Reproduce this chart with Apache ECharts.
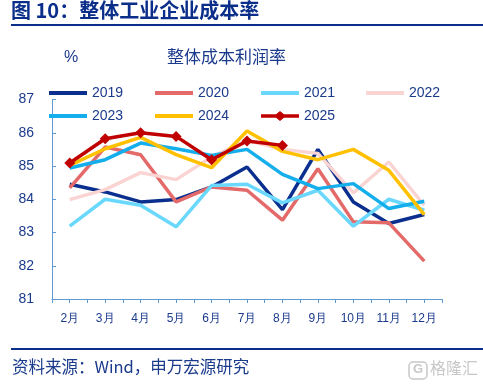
<!DOCTYPE html>
<html><head><meta charset="utf-8">
<script src="https://cdn.jsdelivr.net/npm/echarts@6/dist/echarts.min.js"></script>
<style>html,body{margin:0;padding:0;background:#fff}#c{width:483px;height:391px}</style>
</head><body><div id="c"></div>
<script>
const months = ['2月','3月','4月','5月','6月','7月','8月','9月','10月','11月','12月'];
const y2019 = [84.45,84.22,83.92,83.99,84.37,84.97,83.69,85.5,83.92,83.27,83.54];
const y2020 = [84.34,85.57,85.34,83.92,84.37,84.27,83.37,84.92,83.32,83.29,82.14];
const y2021 = [83.19,84.0,83.82,83.17,84.41,84.45,83.89,84.27,83.19,84.0,83.67];
const y2022 = [83.99,84.29,84.8,84.59,85.27,85.77,85.5,85.38,84.19,85.12,83.82];
const y2023 = [84.94,85.19,85.69,85.52,85.32,85.5,84.75,84.32,84.47,83.72,83.94];
const y2024 = [85.02,85.52,85.86,85.34,84.95,86.05,85.44,85.19,85.5,84.87,83.54];
const y2025 = [85.09,85.82,86.0,85.89,85.19,85.75,85.62];
const yTicks = [81,82,83,84,85,86,87];

const names = ['2019','2020','2021','2022','2023','2024','2025'];
const datas = [y2019,y2020,y2021,y2022,y2023,y2024,y2025];
const colors = ['#0B2F8E','#E46A6A','#6AD8FC','#F9D4D2','#13AEEB','#FFC000','#C00000'];
const navy = '#1A3A8C';

const series = names.map((n,i)=>({
  name:n, type:'line', data:datas[i],
  symbol: n==='2025' ? 'diamond' : 'none',
  symbolSize: 11,
  showSymbol: n==='2025',
  lineStyle:{width:3.5,color:colors[i]},
  itemStyle:{color:colors[i]},
  z: 2+i, animation:false
}));
const halfCats = [];
for (let i=0;i<22;i++) halfCats.push(String(i));

const diamondLine = 'path://M0,3.2L15,3.2L19,0L23,3.2L38,3.2L38,6.8L23,6.8L19,10L15,6.8L0,6.8Z';
const legendPos = [[44,81],[150,81],[256,81],[361,81],[44,104],[150,104],[256,104]];
const legends = names.map((n,i)=>({
  data:[n], left:legendPos[i][0], top:legendPos[i][1],
  icon: n==='2025' ? diamondLine : 'rect',
  itemWidth:38, itemHeight: n==='2025' ? 10 : 4, itemGap:5,
  textStyle:{color:navy,fontSize:14,fontFamily:'Liberation Sans, Arial'},
  selectedMode:false
}));

const chart = echarts.init(document.getElementById('c'));
chart.setOption({
  animation:false,
  legend: legends,
  grid:{left:52,right:41,top:99.5,bottom:92},
  xAxis:[{
    type:'category', data:months, boundaryGap:true,
    axisLine:{lineStyle:{color:'#5B9BD5',width:1}},
    axisTick:{show:false},
    axisLabel:{interval:0,color:navy,fontSize:12,margin:14,fontFamily:'Liberation Sans, Arial'}
  },{
    type:'category', data:halfCats, position:'bottom', boundaryGap:true,
    axisLine:{show:false},
    axisTick:{show:true,length:4,lineStyle:{color:'#5B9BD5'}},
    axisLabel:{show:false}
  }],
  yAxis:{
    type:'value', min:81, max:87, interval:1,
    axisLine:{show:true,lineStyle:{color:'#5B9BD5'}},
    axisTick:{show:true,inside:true,length:4,lineStyle:{color:'#5B9BD5'}},
    splitLine:{show:false},
    axisLabel:{color:navy,fontSize:14,margin:18,fontFamily:'Liberation Sans, Arial'}
  },
  series: series,
  graphic:[
    {type:'text',left:11,top:0,style:{text:'图 10：整体工业企业成本率',fill:'#0A2E8A',font:'bold 20px "Noto Sans CJK SC", sans-serif'}},
    {type:'rect',shape:{x:11,y:24,width:472,height:2},style:{fill:'#0A2E8A'}},
    {type:'text',left:64,top:50,style:{text:'%',fill:navy,font:'16px "Liberation Sans", sans-serif'}},
    {type:'text',left:167,top:48,style:{text:'整体成本利润率',fill:navy,font:'17px "Noto Sans CJK SC", sans-serif'}},
    {type:'rect',shape:{x:11,y:348,width:472,height:2},style:{fill:'#0A2E8A'}},
    {type:'text',left:12,top:358,style:{text:'资料来源：Wind，申万宏源研究',fill:navy,font:'16.5px "Noto Sans CJK SC", sans-serif'}},
    {type:'rect',shape:{x:409,y:362,width:18,height:17,r:4},style:{fill:'none',stroke:'#C8C8C8',lineWidth:1.5}},
    {type:'text',left:413,top:363,style:{text:'G',fill:'#C8C8C8',font:'bold 13px sans-serif'}},
    {type:'text',left:430,top:360,style:{text:'格隆汇',fill:'#C8C8C8',font:'16px "Noto Sans CJK SC", sans-serif'}}
  ]
});
</script></body></html>
